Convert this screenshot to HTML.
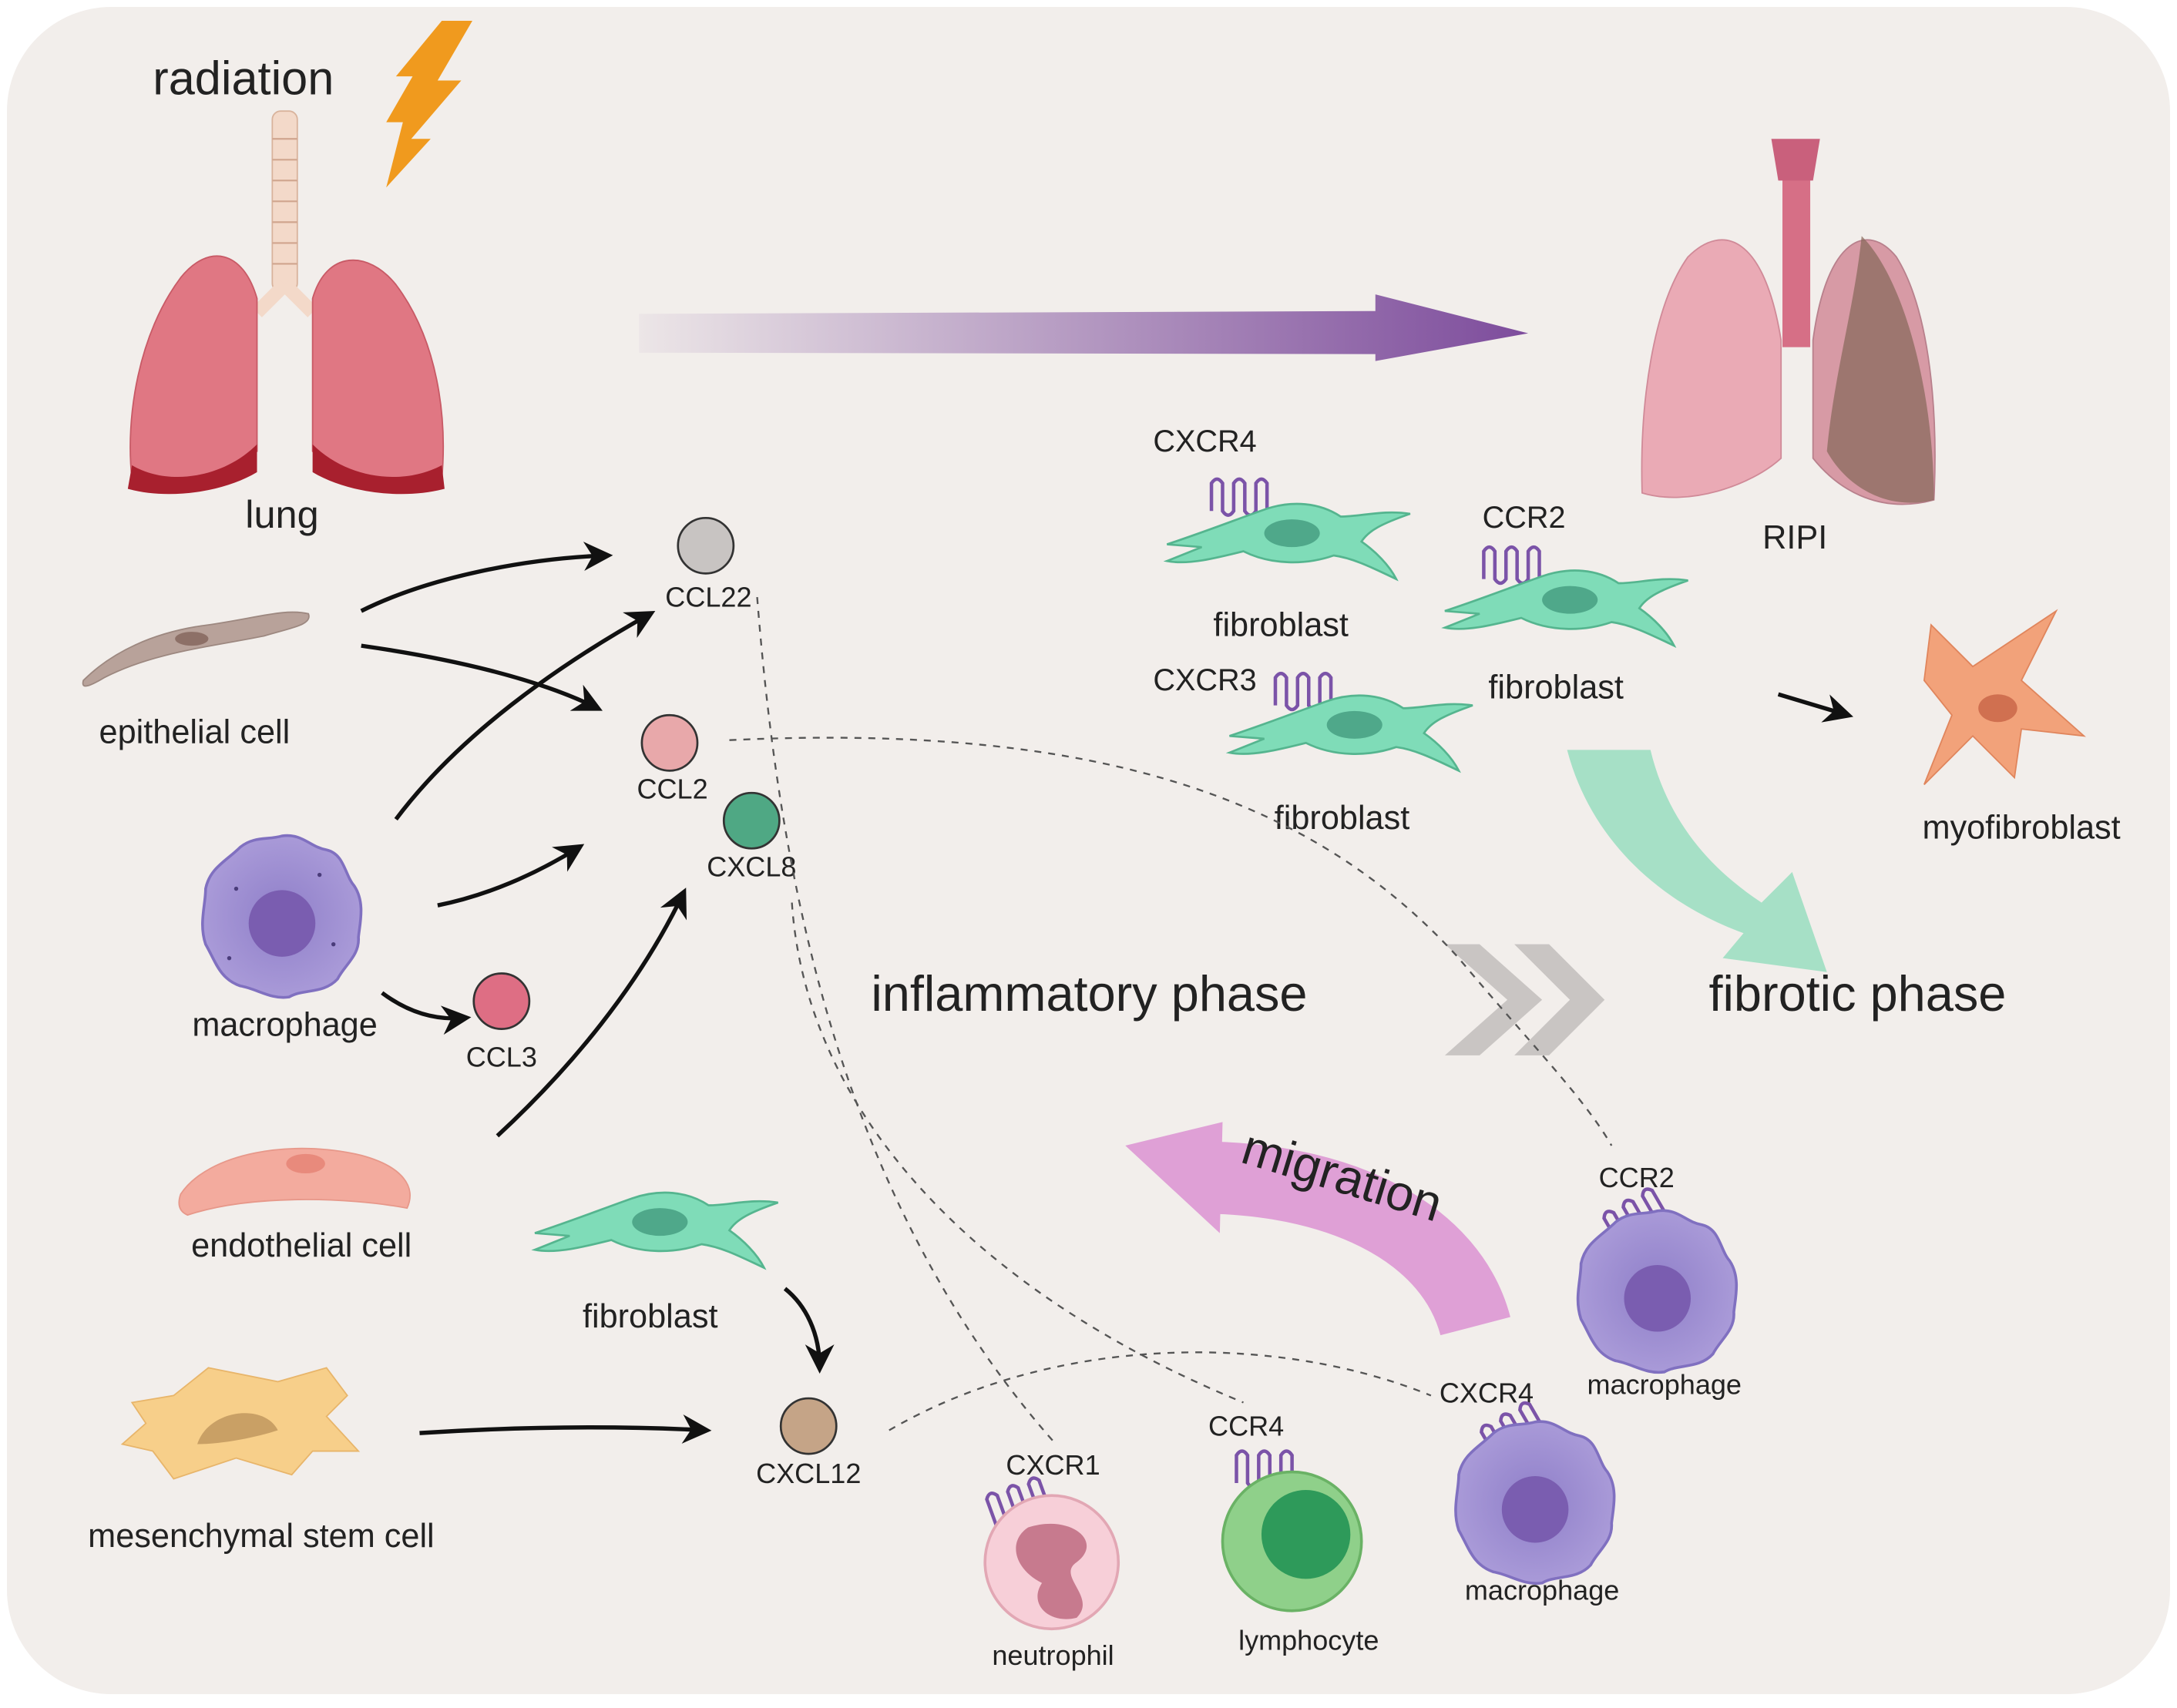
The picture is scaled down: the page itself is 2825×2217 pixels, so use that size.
<!DOCTYPE html>
<html><head><meta charset="utf-8">
<style>
html,body{margin:0;padding:0;background:#fff;}
svg{display:block;}
text{font-family:"Liberation Sans",sans-serif;fill:#222;}
</style></head>
<body>
<svg width="2825" height="2217" viewBox="0 0 1567 1230" preserveAspectRatio="none" xmlns="http://www.w3.org/2000/svg">
<defs>
<linearGradient id="pg" x1="0" x2="1"><stop offset="0" stop-color="#7a4a9a" stop-opacity="0.05"/><stop offset="1" stop-color="#7d4c9c"/></linearGradient>
<marker id="ah" viewBox="0 0 10 10" refX="8" refY="5" markerWidth="7" markerHeight="7" orient="auto"><path d="M0,0 L10,5 L0,10 L3,5z" fill="#111"/></marker>
<radialGradient id="mac" cx="0.5" cy="0.5" r="0.5"><stop offset="0" stop-color="#8f7fc9"/><stop offset="1" stop-color="#a99ad8"/></radialGradient>
<g id="fib">
<path d="M-80,10 C-50,0 -30,-8 -10,-15 C10,-22 30,-20 45,-10 C60,-10 75,-15 95,-12 C75,-5 65,0 60,8 C70,15 80,25 85,35 C70,28 55,20 40,18 C20,25 -5,25 -25,15 C-45,20 -65,25 -80,22 C-70,18 -60,14 -55,12 Z" fill="#7fdcb8" stroke="#55b58f" stroke-width="1.5"/>
<ellipse cx="10" cy="2" rx="20" ry="10" fill="#4fa88a"/>
</g>
<g id="rec"><path d="M0,20 V0 q4,-6 8,0 V20 q4,6 8,0 V0 q4,-6 8,0 V20 q4,6 8,0 V0 q4,-6 8,0 V20" fill="none" stroke="#7b53a8" stroke-width="2.5"/></g>
<g id="macro">
<path d="M0,-58 C15,-60 20,-50 32,-48 C45,-45 45,-30 52,-22 C60,-10 56,5 55,15 C56,28 45,35 40,45 C30,56 15,52 5,58 C-8,60 -18,52 -30,50 C-45,45 -48,32 -55,20 C-60,5 -55,-8 -55,-20 C-52,-35 -40,-40 -30,-50 C-20,-58 -10,-55 0,-58Z" fill="url(#mac)" stroke="#8070c0" stroke-width="2"/>
<circle cx="0" cy="5" r="24" fill="#7a5db0"/>
</g>
</defs>
<rect x="0" y="0" width="1567" height="1230" fill="#fff"/>
<rect x="5" y="5" width="1557" height="1215" rx="75" fill="#f2eeeb"/>

<text x="110" y="68" font-size="34">radiation</text>
<path d="M318,15 L340,15 L315,58 L332,58 L296,100 L310,100 L278,135 L290,88 L278,88 L297,55 L285,55 Z" fill="#f09a1e"/>

<rect x="196" y="80" width="18" height="130" rx="6" fill="#f3d9c9" stroke="#d9b39c"/>
<g stroke="#d0a58e" stroke-width="1.2"><line x1="196" y1="100" x2="214" y2="100"/><line x1="196" y1="115" x2="214" y2="115"/><line x1="196" y1="130" x2="214" y2="130"/><line x1="196" y1="145" x2="214" y2="145"/><line x1="196" y1="160" x2="214" y2="160"/><line x1="196" y1="175" x2="214" y2="175"/><line x1="196" y1="190" x2="214" y2="190"/></g>
<path d="M205,205 L185,225 M205,205 L225,225" stroke="#f3d9c9" stroke-width="10"/>
<path d="M185,215 C175,180 150,175 130,200 C100,240 90,300 95,345 C120,355 160,345 185,325 Z" fill="#e07783" stroke="#c85a66"/>
<path d="M225,215 C235,180 265,180 285,205 C315,245 322,300 318,345 C290,355 250,345 225,325 Z" fill="#e07783" stroke="#c85a66"/>
<path d="M95,335 C120,350 160,345 185,320 L185,340 C160,355 120,360 92,352Z" fill="#a8202e"/>
<path d="M318,335 C290,350 250,345 225,320 L225,340 C250,355 290,360 320,352Z" fill="#a8202e"/>
<text x="203" y="380" font-size="28" text-anchor="middle">lung</text>

<path d="M460,226 L990,224 L990,212 L1100,240 L990,260 L990,255 L460,254 Z" fill="url(#pg)"/>

<rect x="1283" y="110" width="20" height="140" fill="#d66f86"/>
<path d="M1275,100 L1310,100 L1305,130 L1280,130Z" fill="#c9607c"/>
<path d="M1282,245 C1270,170 1240,160 1215,185 C1190,220 1180,290 1182,355 C1215,365 1260,350 1282,330Z" fill="#eaaab5" stroke="#d08a98"/>
<path d="M1305,245 C1315,170 1345,160 1365,185 C1390,225 1395,300 1392,360 C1355,370 1325,355 1305,330Z" fill="#d79aa5" stroke="#b8808c"/>
<path d="M1340,170 C1370,200 1392,280 1392,360 C1360,368 1330,352 1315,325 C1320,270 1335,220 1340,170Z" fill="#8a6a5e" opacity="0.75"/>
<text x="1292" y="395" font-size="24" text-anchor="middle">RIPI</text>

<text x="830" y="325" font-size="22">CXCR4</text>
<use href="#rec" x="872" y="348"/>
<use href="#fib" x="920" y="382"/>
<text x="922" y="458" font-size="24" text-anchor="middle">fibroblast</text>
<text x="1067" y="380" font-size="22">CCR2</text>
<use href="#rec" x="1068" y="397"/>
<use href="#fib" x="1120" y="430"/>
<text x="1120" y="503" font-size="24" text-anchor="middle">fibroblast</text>
<text x="830" y="497" font-size="22">CXCR3</text>
<use href="#rec" x="918" y="488"/>
<use href="#fib" x="965" y="520"/>
<text x="966" y="597" font-size="24" text-anchor="middle">fibroblast</text>
<line x1="1280" y1="500" x2="1330" y2="515" stroke="#111" stroke-width="3" marker-end="url(#ah)"/>
<path d="M1390,450 L1420,480 L1480,440 L1455,490 L1500,530 L1455,525 L1450,560 L1420,530 L1385,565 L1405,515 L1385,490 Z" fill="#f2a27a" stroke="#e0855c"/>
<ellipse cx="1438" cy="510" rx="14" ry="10" fill="#d07050"/>
<text x="1455" y="604" font-size="24" text-anchor="middle">myofibroblast</text>

<path d="M1128,540 L1188,540 C1200,590 1230,625 1268,650 L1290,628 L1315,700 L1240,690 L1255,672 C1195,650 1145,605 1128,540Z" fill="#a6e0c6"/>

<text x="627" y="728" font-size="36">inflammatory phase</text>
<text x="1230" y="728" font-size="36">fibrotic phase</text>
<path d="M1040,680 L1065,680 L1110,720 L1065,760 L1040,760 L1085,720Z" fill="#c9c5c3"/>
<path d="M1090,680 L1115,680 L1155,720 L1115,760 L1090,760 L1130,720Z" fill="#c9c5c3"/>

<path d="M60,490 C80,470 110,455 150,450 C185,445 205,438 222,442 C225,450 210,452 190,458 C150,466 110,470 75,488 C65,494 58,497 60,490Z" fill="#b8a29a" stroke="#9d8880"/>
<ellipse cx="138" cy="460" rx="12" ry="5" fill="#8d7067"/>
<text x="140" y="535" font-size="24" text-anchor="middle">epithelial cell</text>
<use href="#macro" x="203" y="660"/>
<g fill="#4a3c7a"><circle cx="170" cy="640" r="1.5"/><circle cx="230" cy="630" r="1.5"/><circle cx="240" cy="680" r="1.5"/><circle cx="165" cy="690" r="1.5"/></g>
<text x="205" y="746" font-size="24" text-anchor="middle">macrophage</text>
<path d="M130,860 C150,830 210,820 260,832 C290,840 300,855 293,870 C250,862 180,860 135,875 C128,872 128,866 130,860Z" fill="#f3ab9e" stroke="#e7988a"/>
<ellipse cx="220" cy="838" rx="14" ry="7" fill="#e88a7c"/>
<text x="217" y="905" font-size="24" text-anchor="middle">endothelial cell</text>
<path d="M95,1010 L125,1005 L150,985 L200,995 L235,985 L250,1005 L235,1020 L258,1045 L225,1045 L210,1062 L170,1050 L125,1065 L110,1045 L88,1040 L105,1025Z" fill="#f7cf8a" stroke="#e8b56a"/>
<path d="M142,1040 C150,1015 190,1010 200,1030 C185,1035 160,1040 142,1040Z" fill="#c9a065"/>
<text x="188" y="1114" font-size="24" text-anchor="middle">mesenchymal stem cell</text>
<use href="#fib" x="465" y="878"/>
<text x="468" y="956" font-size="24" text-anchor="middle">fibroblast</text>

<circle cx="508" cy="393" r="20" fill="#c8c4c2" stroke="#333" stroke-width="1.5"/>
<text x="510" y="437" font-size="20" text-anchor="middle">CCL22</text>
<circle cx="482" cy="535" r="20" fill="#e8a8aa" stroke="#333" stroke-width="1.5"/>
<text x="484" y="575" font-size="20" text-anchor="middle">CCL2</text>
<circle cx="541" cy="591" r="20" fill="#4fa884" stroke="#333" stroke-width="1.5"/>
<text x="541" y="631" font-size="20" text-anchor="middle">CXCL8</text>
<circle cx="361" cy="721" r="20" fill="#de6e84" stroke="#333" stroke-width="1.5"/>
<text x="361" y="768" font-size="20" text-anchor="middle">CCL3</text>
<circle cx="582" cy="1027" r="20" fill="#c5a487" stroke="#333" stroke-width="1.5"/>
<text x="582" y="1068" font-size="20" text-anchor="middle">CXCL12</text>

<g fill="none" stroke="#111" stroke-width="3" marker-end="url(#ah)">
<path d="M260,440 C310,415 380,402 437,400"/>
<path d="M260,465 C330,475 390,490 430,510"/>
<path d="M285,590 C330,530 400,480 468,442"/>
<path d="M315,652 C350,645 385,630 417,610"/>
<path d="M275,715 C295,730 315,735 335,733"/>
<path d="M358,818 C410,770 460,710 492,643"/>
<path d="M565,928 C580,940 590,960 590,985"/>
<path d="M302,1032 C380,1027 450,1027 508,1030"/>
</g>

<g fill="none" stroke="#555" stroke-width="1.3" stroke-dasharray="5,5">
<path d="M545,430 C560,620 600,860 760,1040"/>
<path d="M525,533 C800,520 950,580 1050,690 C1100,750 1140,790 1160,825"/>
<path d="M570,650 C580,800 700,930 895,1010"/>
<path d="M640,1030 C760,960 920,960 1030,1005"/>
</g>

<!-- migration arrow -->
<path d="M1062,955 C1045,890 970,850 870,848" fill="none" stroke="#dfa0d6" stroke-width="52"/>
<path d="M880,808 L810,825 L878,888 Z" fill="#dfa0d6"/>
<text x="885" y="858" font-size="36" transform="rotate(17 960 870)">migration</text>

<text x="1178" y="855" font-size="20" text-anchor="middle">CCR2</text>
<use href="#rec" x="1158" y="870" transform="rotate(-30 1170 880)"/>
<use href="#macro" x="1193" y="930"/>
<text x="1198" y="1004" font-size="20" text-anchor="middle">macrophage</text>
<text x="1070" y="1010" font-size="20" text-anchor="middle">CXCR4</text>
<use href="#rec" x="1070" y="1025" transform="rotate(-30 1080 1035)"/>
<use href="#macro" x="1105" y="1082"/>
<text x="1110" y="1152" font-size="20" text-anchor="middle">macrophage</text>
<text x="897" y="1034" font-size="20" text-anchor="middle">CCR4</text>
<use href="#rec" x="890" y="1048"/>
<circle cx="930" cy="1110" r="50" fill="#8fd08a" stroke="#6ab265" stroke-width="2"/>
<circle cx="940" cy="1105" r="32" fill="#2e9a5a"/>
<text x="942" y="1188" font-size="20" text-anchor="middle">lymphocyte</text>
<text x="758" y="1062" font-size="20" text-anchor="middle">CXCR1</text>
<use href="#rec" x="713" y="1075" transform="rotate(-20 725 1085)"/>
<circle cx="757" cy="1125" r="48" fill="#f7cfd8" stroke="#e2a7b4" stroke-width="2"/>
<path d="M740,1100 C770,1090 795,1110 775,1125 C760,1135 790,1150 775,1165 C755,1170 740,1155 750,1140 C730,1130 725,1110 740,1100Z" fill="#c77a8e"/>
<text x="758" y="1199" font-size="20" text-anchor="middle">neutrophil</text>
</svg>
</body></html>
